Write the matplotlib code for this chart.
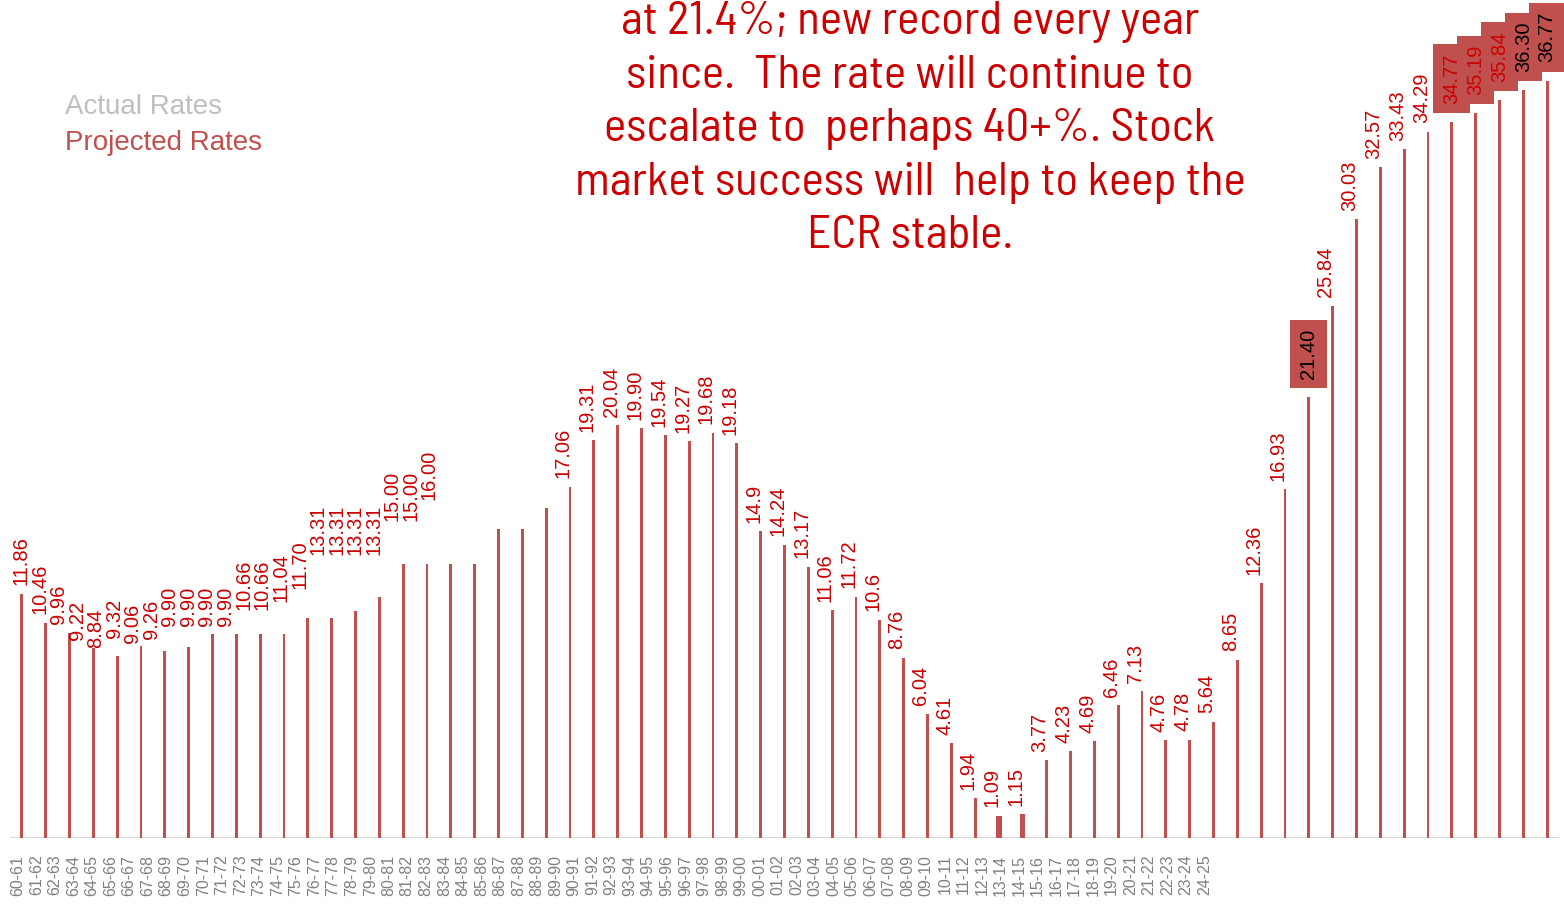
import numpy as np
import matplotlib
matplotlib.use('Agg')
import matplotlib.pyplot as plt

# -------------------------
# DATA
# -------------------------
rate_labels = [
    "11.86", "10.46", "9.96", "9.22", "8.84", "9.32", "9.06", "9.26",
    "9.90", "9.90", "9.90", "9.90", "10.66", "10.66", "11.04", "11.70",
    "13.31", "13.31", "13.31", "13.31", "15.00", "15.00", "16.00", "17.06",
    "19.31", "20.04", "19.90", "19.54", "19.27", "19.68", "19.18", "14.9",
    "14.24", "13.17", "11.06", "11.72", "10.6", "8.76", "6.04", "4.61",
    "1.94", "1.09", "1.15", "3.77", "4.23", "4.69", "6.46", "7.13",
    "4.76", "4.78", "5.64", "8.65", "12.36", "16.93", "21.40", "25.84",
    "30.03", "32.57", "33.43", "34.29", "34.77", "35.19", "35.84", "36.30",
    "36.77",
]
rates = np.array([float(s) for s in rate_labels])

seasons = [f"{y % 100:02d}-{(y + 1) % 100:02d}" for y in range(1960, 2025)]

# labels shown in filled boxes
boxed_black = [54, 63, 64]
boxed_red = [60, 61, 62]
thick_bars = [41, 42]

note_lines = [
    "at 21.4%; new record every year",
    "since.  The rate will continue to",
    "escalate to  perhaps 40+%. Stock",
    "market success will  help to keep the",
    "ECR stable.",
]

# -------------------------
# STYLE
# -------------------------
W, H = 1564, 914
BAR = '#C0504D'
RED = '#CC0000'
narrow = ['Barlow Semi Condensed', 'Roboto Condensed', 'DejaVu Sans']
sans = ['Liberation Sans', 'DejaVu Sans']

fig = plt.figure(figsize=(W / 100, H / 100), dpi=100)
ax = fig.add_axes([10 / W, 76 / H, 1549 / W, 824 / H])

x = np.arange(len(rates))
widths = np.where(np.isin(x, thick_bars), 0.22, 0.12)
ax.bar(x, rates, width=widths, color=BAR, zorder=2)
ax.axhline(0, color='#D9D9D9', lw=1.5, zorder=1)

ax.set_xlim(-0.5, len(rates) - 0.5)
ax.set_ylim(0, 40)
for s in ax.spines.values():
    s.set_visible(False)
ax.get_yaxis().set_visible(False)

# category labels sit on a squeezed scale
tick_pos = x * 0.778 - 0.17
ax.set_xticks(tick_pos)
ax.set_xticklabels(seasons, rotation=90, fontsize=11.5, color='#808080',
                   family=sans)
ax.tick_params(axis='x', length=0, pad=12)

# value labels
for i, (txt, v) in enumerate(zip(rate_labels, rates)):
    if i in boxed_black or i in boxed_red:
        continue
    lx = i * 0.778 - 0.02 if i <= 22 else i - 0.28
    ax.annotate(txt, (lx, v), xytext=(0, 6), textcoords='offset points',
                rotation=90, ha='center', va='bottom', fontsize=14.5,
                color=RED, family=sans, annotation_clip=False, zorder=4)

for i in sorted(boxed_black + boxed_red):
    ax.annotate(rate_labels[i], (i, rates[i]), xytext=(0, 13),
                textcoords='offset points', rotation=90, ha='center',
                va='bottom', fontsize=14.5, family=sans,
                color='black' if i in boxed_black else RED,
                bbox=dict(boxstyle='square,pad=0.45', fc=BAR, ec='none'),
                annotation_clip=False, zorder=5 + i * 0.01)

# note text
for k, line in enumerate(note_lines):
    fig.text(910 / W, 1 - (22 + 53.5 * k) / H, line, ha='center', va='center',
             fontsize=34, color=RED, family=narrow)

# legend
fig.text(65 / W, 1 - 107 / H, 'Actual Rates', va='center', fontsize=20,
         color='#BFBFBF', family=sans)
fig.text(65 / W, 1 - 143 / H, 'Projected Rates', va='center', fontsize=20,
         color=BAR, family=sans)

fig.savefig('out.png', dpi=100)
